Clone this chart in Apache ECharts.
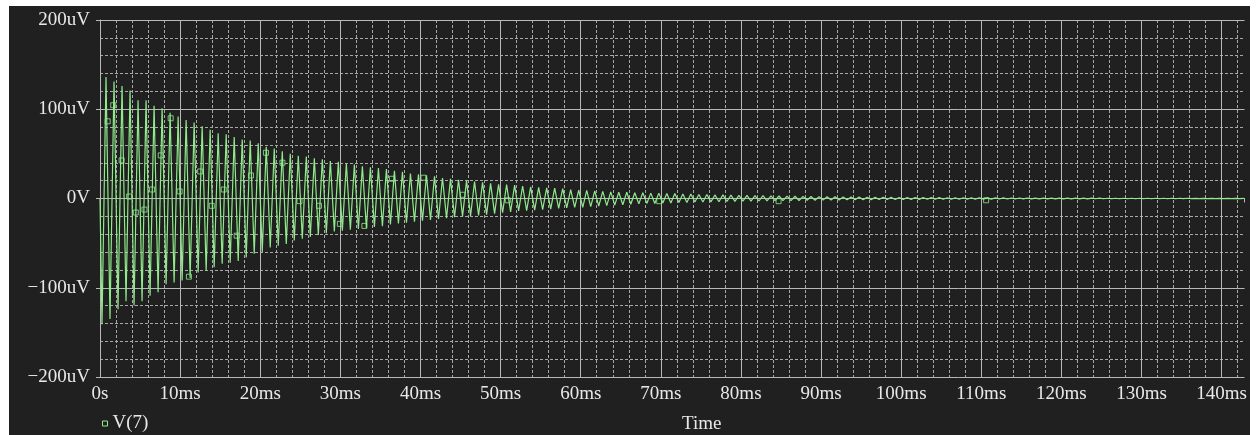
<!DOCTYPE html>
<html>
<head>
<meta charset="utf-8">
<script src="https://cdn.jsdelivr.net/npm/echarts@6/dist/echarts.min.js"></script>
<style>
  html, body { margin: 0; padding: 0; background: #ffffff; }
  #chart { position: absolute; left: 9px; top: 6px; width: 1241px; height: 429px; }
</style>
</head>
<body>
<div id="chart"></div>
<script>
// time axis in ms, values in uV
var tMax = 142.86;
var cycleMs = 1.0;

// positive peak of each cycle (uV)
var peakHigh = [
  136, 131, 126, 121, 110, 110, 104, 101, 96, 92, 88, 85, 81, 77, 73, 72, 69, 66, 65, 62, 58, 56, 53, 50, 48,
  47, 45, 44, 42, 41, 39, 38, 36, 35, 34, 33, 31, 30, 28, 27, 26, 25, 23, 22, 21, 20, 19, 18, 17, 16,
  15.5, 15, 14, 13, 12.5, 12, 11.5, 11, 10, 9.5, 9, 8.5, 8, 7.5, 7, 7, 6.5, 6.5, 6, 6, 5.5, 5.5, 5, 5, 4.5,
  4.5, 4, 4, 3.8, 3.5, 3.5, 3.3, 3.1, 3, 2.8, 2.7, 2.5, 2.4, 2.3, 2.1, 2, 1.9, 1.8, 1.7, 1.6, 1.5, 1.4, 1.4, 1.3, 1.2,
  1.2, 1.1, 1.1, 1, 1, 0.9, 0.9, 0.8, 0.8, 0.8, 0.7, 0.7, 0.7, 0.6, 0.6, 0.6, 0.5, 0.5, 0.5, 0.5, 0.4, 0.4, 0.4, 0.4, 0.4,
  0.3, 0.3, 0.3, 0.3, 0.3, 0.3, 0.3, 0.25, 0.25, 0.25, 0.25, 0.2, 0.2, 0.2, 0.2, 0.2, 0.2, 0.2
];
// negative peak of each cycle (uV)
var peakLow = [
  -141, -135, -124, -115, -120, -115, -109, -105, -96, -94, -92, -89, -83, -81, -77, -73, -72, -70, -66, -62, -60, -55, -53, -51, -47,
  -45, -43, -41, -39, -37, -36, -35, -34, -33, -32, -31, -29, -28, -27, -26, -25, -24, -23, -22, -21, -20, -19.5, -19, -18, -17,
  -16, -15, -14, -13.5, -13, -12.5, -12, -11, -10.5, -10, -10, -9, -8.5, -8, -7.5, -7, -6.5, -6, -5.5, -5.5, -5, -5, -4.5, -4.5, -4,
  -4, -3.8, -3.6, -3.4, -3.2, -3, -2.9, -2.8, -2.6, -2.5, -2.4, -2.3, -2.2, -2, -1.9, -1.8, -1.7, -1.6, -1.5, -1.4, -1.4, -1.3, -1.2, -1.2, -1.1,
  -1.1, -1, -1, -0.9, -0.9, -0.9, -0.8, -0.8, -0.8, -0.7, -0.7, -0.7, -0.6, -0.6, -0.6, -0.5, -0.5, -0.5, -0.5, -0.4, -0.4, -0.4, -0.4, -0.4, -0.3,
  -0.3, -0.3, -0.3, -0.3, -0.3, -0.3, -0.25, -0.25, -0.25, -0.25, -0.2, -0.2, -0.2, -0.2, -0.2, -0.2, -0.2, -0.2
];

// trace markers (the little squares)
var markerTimes = [0.96, 1.65, 2.70, 3.64, 4.47, 5.55, 6.50, 7.58, 8.82, 9.94, 11.1, 12.5, 13.95, 15.44, 17.06, 18.84,
  20.71, 22.77, 24.9, 27.33, 29.94, 33.0, 36.44, 40.37, 45.26, 50.9, 69.8, 84.7, 110.6];
var markerValues = [86.5, 104.5, 42.7, 2.2, -15.7, -12.4, 10.1, 48.3, 89.9, 7.9, -87.6, 30.3, -8.2, 10.1, -41.6, 25.8,
  51.3, 40.1, -3, -8.2, -28.4, -30.7, 22.1, 23.3, 4.2, -2, -3, -3, -2];

var xTickLabels = ['0s', '10ms', '20ms', '30ms', '40ms', '50ms', '60ms', '70ms', '80ms', '90ms', '100ms', '110ms', '120ms', '130ms', '140ms'];
var yTickLabels = ['\u2212200uV', '\u2212100uV', '0V', '100uV', '200uV'];

var traceColor = '#90ea8c';
var textColor = '#e8e8e8';
var font = 'Liberation Serif';

var traceData = [[0, 0]];
for (var k = 0; k < peakHigh.length; k++) {
  traceData.push([k * cycleMs + cycleMs * 0.25, peakLow[k]]);
  traceData.push([k * cycleMs + cycleMs * 0.75, peakHigh[k]]);
}
var markerData = markerTimes.map(function (t, i) { return [t, markerValues[i]]; });

var chart = echarts.init(document.getElementById('chart'));
chart.setOption({
  backgroundColor: '#202020',
  animation: false,
  grid: { left: 91, top: 14, right: 0, bottom: 58 },
  legend: {
    left: 88, top: 403,
    itemWidth: 5, itemHeight: 5, itemGap: 6,
    textStyle: { color: textColor, fontFamily: font, fontSize: 19 },
    data: [{ name: 'V(7)', icon: 'rect', itemStyle: { color: 'transparent', borderColor: traceColor, borderWidth: 1 } }]
  },
  graphic: [{
    type: 'text', left: 673, top: 409,
    style: { text: 'Time', fill: textColor, font: '19px "Liberation Serif"' }
  }],
  xAxis: [{
    type: 'value', min: 0, max: tMax, interval: 10, z: 1,
    axisLine: { lineStyle: { color: '#b8b8b8', width: 1 } },
    axisTick: { length: 4, lineStyle: { color: '#b8b8b8' } },
    splitLine: { show: true, showMaxLine: false, lineStyle: { color: '#b8b8b8', width: 1 } },
    axisLabel: {
      color: textColor, fontFamily: font, fontSize: 19, margin: 8, showMaxLabel: true,
      formatter: function (v) { return v % 10 === 0 ? xTickLabels[v / 10] : ''; }
    }
  }, {
    type: 'value', min: 0, max: tMax, interval: 2, z: 0,
    axisLine: { show: false }, axisTick: { show: false }, axisLabel: { show: false },
    splitLine: { show: true, showMaxLine: false, lineStyle: { color: '#a8a8a8', width: 1, type: [3, 2] } }
  }],
  yAxis: [{
    type: 'value', min: -200, max: 200, interval: 100, z: 1,
    axisLine: { show: true, lineStyle: { color: '#b8b8b8', width: 1 } },
    axisTick: { show: true, length: 4, lineStyle: { color: '#b8b8b8' } },
    splitLine: { show: true, lineStyle: { color: '#b8b8b8', width: 1 } },
    axisLabel: {
      color: textColor, fontFamily: font, fontSize: 19, margin: 10,
      formatter: function (v) { return yTickLabels[(v + 200) / 100]; }
    }
  }, {
    type: 'value', min: -200, max: 200, interval: 20, z: 0, position: 'left',
    axisLine: { show: false }, axisTick: { show: false }, axisLabel: { show: false },
    splitLine: { show: true, lineStyle: { color: '#a8a8a8', width: 1, type: [3, 2] } }
  }],
  series: [{
    name: 'V(7)', type: 'line', data: traceData, showSymbol: false, symbol: 'none',
    lineStyle: { color: traceColor, width: 1.2 }, itemStyle: { color: traceColor }, z: 3
  }, {
    name: 'V(7)', type: 'scatter', data: markerData, symbol: 'rect', symbolSize: 5,
    itemStyle: { color: 'transparent', borderColor: traceColor, borderWidth: 1 }, z: 4
  }]
});
</script>
</body>
</html>
